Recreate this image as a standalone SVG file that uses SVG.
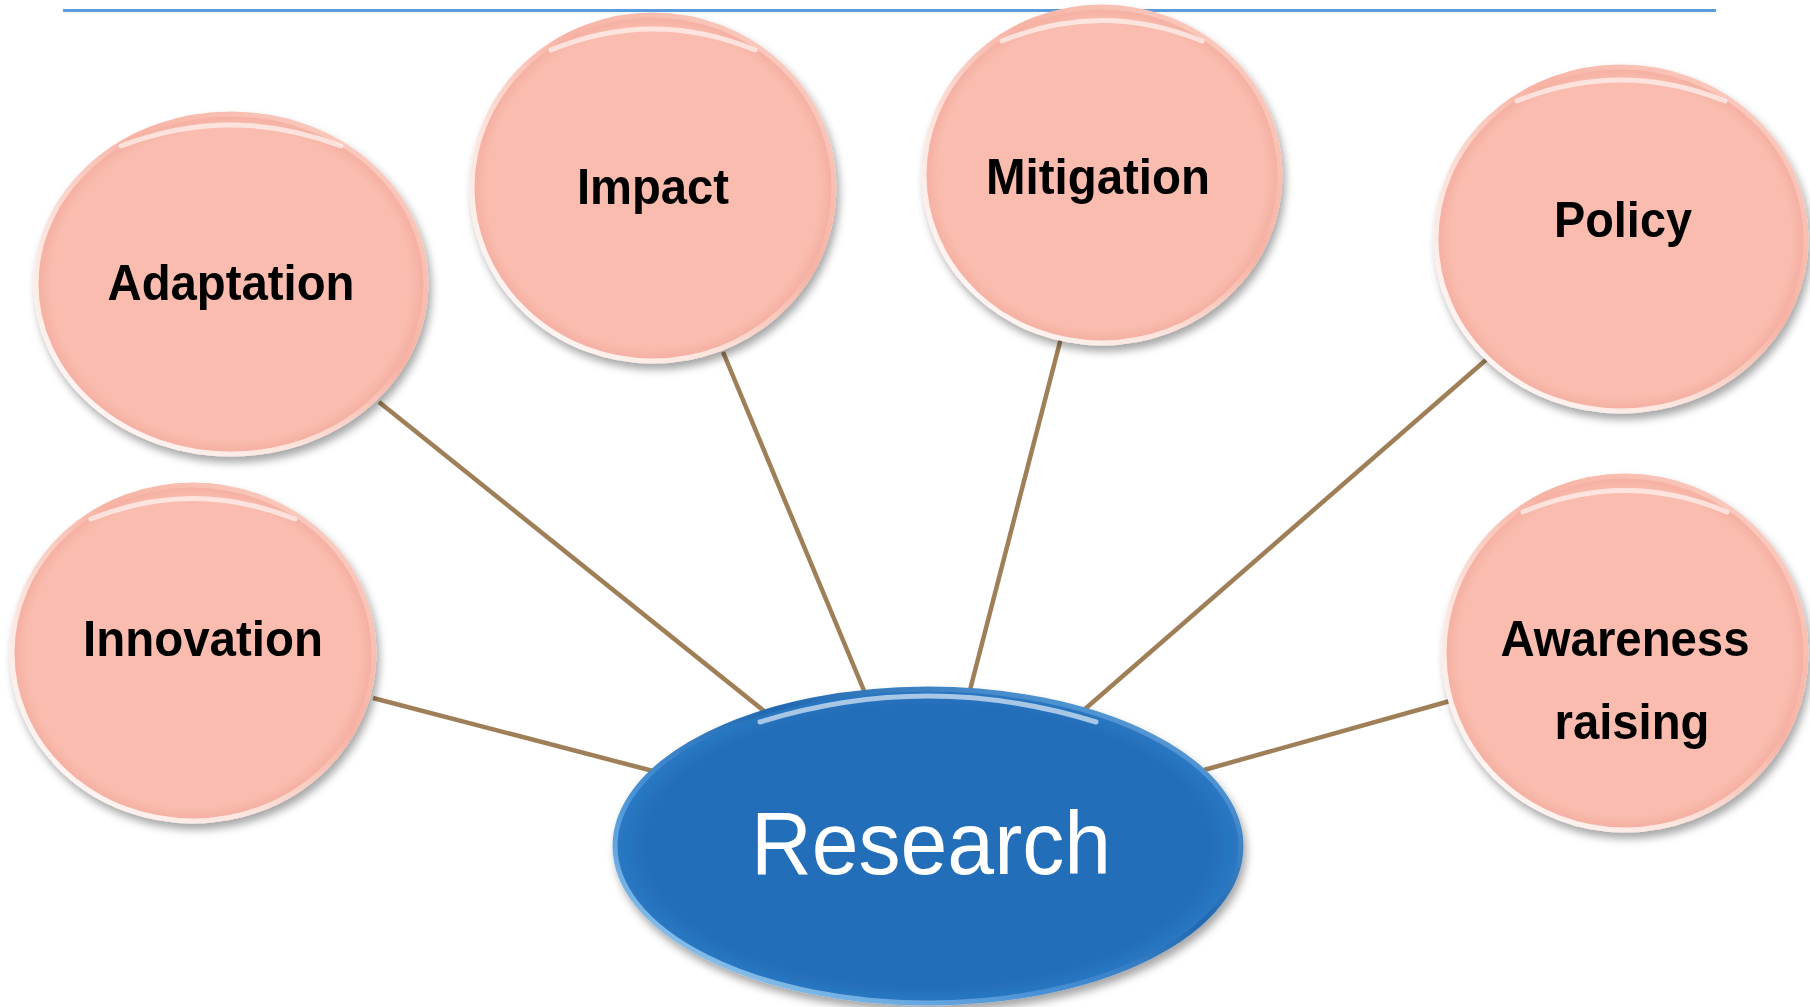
<svg xmlns="http://www.w3.org/2000/svg" width="1810" height="1007" viewBox="0 0 1810 1007">
  <style>
    .pink { fill: url(#pinkFill); stroke: url(#rimPink); stroke-width: 5; filter: url(#shadow); }
    .blue { fill: url(#blueFill); stroke: url(#rimBlue); stroke-width: 5; filter: url(#shadow); }
    .hl { fill: none; stroke: #FFFFFF; stroke-opacity: 0.6; stroke-width: 5; stroke-linecap: round; }
    .lbl { font-family: "Liberation Sans", Arial, sans-serif; font-weight: bold; font-size: 50px; fill: #000; text-anchor: middle; }
    .main { font-family: "Liberation Sans", Arial, sans-serif; font-size: 89px; fill: #fff; text-anchor: middle; }
    .conn { stroke: #9E7F58; stroke-width: 4.5; stroke-linecap: butt; fill: none; }
  </style>
  <defs>
    <filter id="shadow" x="-10%" y="-10%" width="125%" height="125%">
      <feDropShadow dx="3" dy="6" stdDeviation="4" flood-color="#000" flood-opacity="0.35"/>
    </filter>
    <radialGradient id="pinkFill" cx="0.5" cy="0.5" r="0.5">
      <stop offset="0" stop-color="#F9BCAE"/>
      <stop offset="0.92" stop-color="#F9BCAE"/>
      <stop offset="1" stop-color="#F4AEA0"/>
    </radialGradient>
    <radialGradient id="blueFill" cx="0.5" cy="0.5" r="0.5">
      <stop offset="0" stop-color="#246EB8"/>
      <stop offset="0.9" stop-color="#246EB8"/>
      <stop offset="1" stop-color="#2A78C4"/>
    </radialGradient>
    <linearGradient id="rimPink" x1="0" y1="1" x2="1" y2="0">
      <stop offset="0" stop-color="#FFFFFF"/>
      <stop offset="0.35" stop-color="#FCE3DC"/>
      <stop offset="0.6" stop-color="#F7B2A3"/>
      <stop offset="1" stop-color="#FBD4CA"/>
    </linearGradient>
    <linearGradient id="rimBlue" x1="0" y1="1" x2="1" y2="0">
      <stop offset="0" stop-color="#A9D8F5"/>
      <stop offset="0.35" stop-color="#4A92D6"/>
      <stop offset="0.6" stop-color="#2168B0"/>
      <stop offset="1" stop-color="#6FB0E6"/>
    </linearGradient>
  </defs>

  <line x1="63" y1="10.5" x2="1716" y2="10.5" stroke="#5B9BDE" stroke-width="3"/>

  <g id="connectors">
    <line class="conn" x1="379" y1="402" x2="764" y2="711"/>
    <line class="conn" x1="723" y1="352" x2="865" y2="693"/>
    <line class="conn" x1="1061" y1="338" x2="970" y2="690"/>
    <line class="conn" x1="1487" y1="359" x2="1085" y2="709"/>
    <line class="conn" x1="373" y1="698" x2="653" y2="771"/>
    <line class="conn" x1="1450" y1="701" x2="1204" y2="770"/>
  </g>

  <g id="adaptation">
    <ellipse class="pink" cx="231" cy="284" rx="195" ry="170"/>
    <path class="hl" d="M 121 146 Q 231 104 341 146"/>
    <text class="lbl" x="231" y="300" textLength="247" lengthAdjust="spacingAndGlyphs">Adaptation</text>
  </g>

  <g id="impact">
    <ellipse class="pink" cx="653" cy="188" rx="181" ry="173"/>
    <path class="hl" d="M 551 50 Q 653 8 755 50"/>
    <text class="lbl" x="653" y="204" textLength="152" lengthAdjust="spacingAndGlyphs">Impact</text>
  </g>

  <g id="mitigation">
    <ellipse class="pink" cx="1102" cy="175" rx="178" ry="168"/>
    <path class="hl" d="M 1002 41 Q 1102 0 1202 41"/>
    <text class="lbl" x="1098" y="194" textLength="224" lengthAdjust="spacingAndGlyphs">Mitigation</text>
  </g>

  <g id="policy">
    <ellipse class="pink" cx="1621" cy="239" rx="185" ry="172"/>
    <path class="hl" d="M 1517 101 Q 1621 59 1725 101"/>
    <text class="lbl" x="1623" y="237" textLength="138" lengthAdjust="spacingAndGlyphs">Policy</text>
  </g>

  <g id="innovation">
    <ellipse class="pink" cx="193" cy="653" rx="181" ry="168"/>
    <path class="hl" d="M 91 519 Q 193 478 295 519"/>
    <text class="lbl" x="203" y="656" textLength="240" lengthAdjust="spacingAndGlyphs">Innovation</text>
  </g>

  <g id="awareness-raising">
    <ellipse class="pink" cx="1625" cy="653" rx="181" ry="177"/>
    <path class="hl" d="M 1523 512 Q 1625 469 1727 512"/>
    <text class="lbl" x="1625" y="656" textLength="249" lengthAdjust="spacingAndGlyphs">Awareness</text>
    <text class="lbl" x="1632" y="739" textLength="155" lengthAdjust="spacingAndGlyphs">raising</text>
  </g>

  <g id="research">
    <ellipse class="blue" cx="928" cy="846" rx="313" ry="157"/>
    <path class="hl" d="M 760 722 Q 928 670 1096 722" stroke-opacity="0.35"/>
    <text class="main" x="931" y="874" textLength="360" lengthAdjust="spacingAndGlyphs">Research</text>
  </g>
</svg>
